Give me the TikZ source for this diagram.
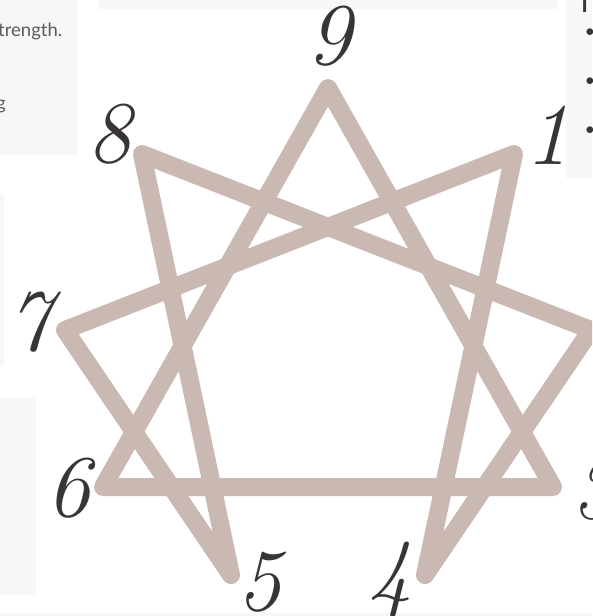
\documentclass[tikz,border=0pt]{standalone}
\usepackage{fontspec}
\newfontfamily\uifont{Lato}
\definecolor{panel}{HTML}{F7F7F7}
\definecolor{star}{HTML}{C9B9B2}
\definecolor{ink}{HTML}{3A3535}
\definecolor{txt}{HTML}{5A5A5A}
\tikzset{
  panelbox/.style={fill=panel, draw=none},
  starline/.style={draw=star, line width=18pt, line join=round, line cap=round},
  num/.style={text=ink, inner sep=0pt, font=\fontsize{88}{88}\selectfont\itshape},
  uitext/.style={text=txt, inner sep=0pt, font=\uifont\fontsize{18.5}{22}\selectfont},
  dot/.style={text=ink, inner sep=0pt, font=\fontsize{16}{16}\selectfont},
}
\begin{document}
\begin{tikzpicture}[x=1pt, y=-1pt]
\useasboundingbox (0,0) rectangle (592,616);
\clip (0,0) rectangle (592,616);
\fill[white] (0,0) rectangle (592,616);
% background panels
\fill[panelbox] (0,0) rectangle (78,155);
\fill[panelbox] (98,0) rectangle (557,9);
\fill[panelbox] (566,0) rectangle (592,178);
\fill[panelbox] (0,195) rectangle (4,365);
\fill[panelbox] (0,398) rectangle (36,595);
\fill[panelbox] (0,613) rectangle (592,616);
% panel texts
\node[uitext, anchor=base west] (t1) at (-2,36) {trength.};
\node[uitext, anchor=base west] (t2) at (-4,109) {g};
\node[uitext, anchor=base west, font=\uifont\bfseries\fontsize{22}{24}\selectfont, text=ink] (t3) at (578,12) {T};
\node[dot] (b1) at (590,33) {$\bullet$};
\node[dot] (b2) at (590,82) {$\bullet$};
\node[dot] (b3) at (590,131) {$\bullet$};
% enneagram points
\coordinate (p9) at (328,88);
\coordinate (p1) at (514,154);
\coordinate (p8) at (142,154);
\coordinate (p2) at (591,330);
\coordinate (p7) at (65,330);
\coordinate (p3) at (553,487);
\coordinate (p6) at (103,487);
\coordinate (p4) at (425,575);
\coordinate (p5) at (231,575);
% lines
\draw[starline] (p1) -- (p4) -- (p2) -- (p8) -- (p5) -- (p7) -- cycle;
\draw[starline] (p9) -- (p3) -- (p6) -- cycle;
% numbers
\node[num] (n9) at (329,36) {9};
\node[num] (n8) at (109,134) {8};
\node[num] (n1) at (547,135) {1};
\node[num] (n7) at (29,322) {7};
\node[num] (n6) at (68,488) {6};
\node[num] (n5) at (259,582) {5};
\node[num] (n4) at (390,580) {4};
\node[num] (n3) at (594,490) {3};
\end{tikzpicture}
\end{document}
